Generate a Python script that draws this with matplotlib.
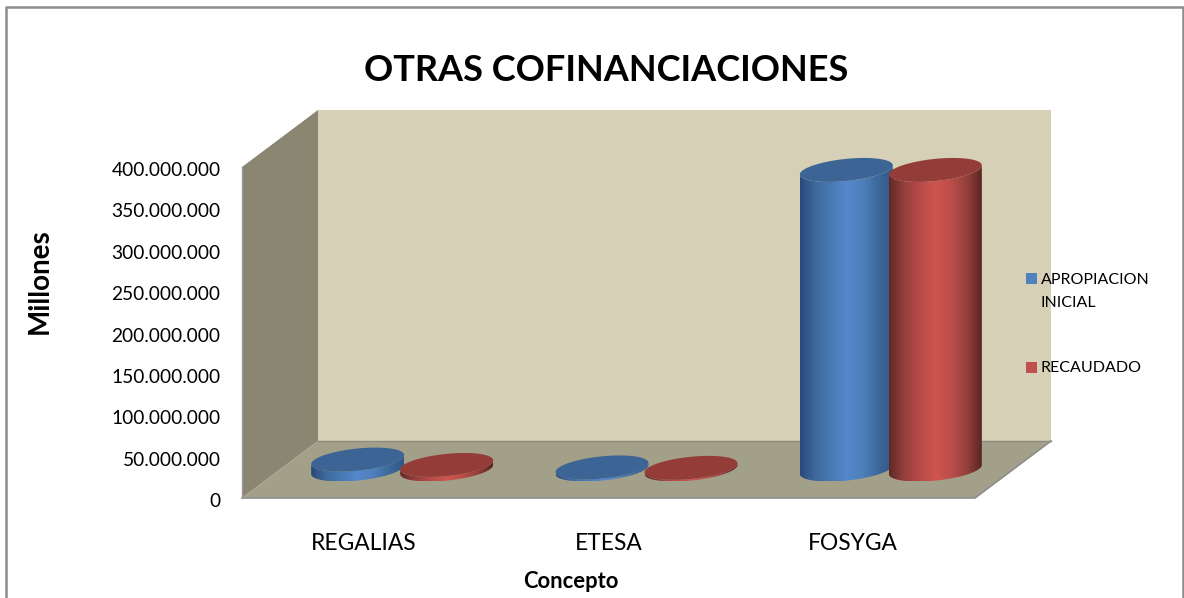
import numpy as np
from matplotlib import pyplot as plt
from matplotlib.colors import LinearSegmentedColormap
from matplotlib.lines import Line2D
from matplotlib.patches import PathPatch, Polygon, Rectangle
from matplotlib.path import Path
from matplotlib.ticker import FuncFormatter
from matplotlib.transforms import ScaledTranslation

categories = ['REGALIAS', 'ETESA', 'FOSYGA']
apropiacion = [12000000, 2500000, 362000000]
recaudado = [5500000, 2000000, 362000000]
yticks = [0, 50000000, 100000000, 150000000, 200000000, 250000000, 300000000, 350000000, 400000000]

W, H = 1184, 598
plt.rcParams['font.family'] = ['Lato', 'DejaVu Sans']

fig = plt.figure(figsize=(W / 100, H / 100), dpi=100)
ax = fig.add_axes([242 / W, 1 - 498 / H, 733 / W, 331 / H])
ax.set_xlim(-0.5, 2.5)
ax.set_ylim(0, 400000000)

# depth of the fake 3d box, in data units
depth_x = 76 / 733 * 3
depth_y = 57 / 331 * 400000000

# walls and floor
x0, x1 = -0.5, 2.5
y1 = 400000000
ax.add_patch(Polygon([(x0 + depth_x, depth_y), (x1 + depth_x, depth_y), (x1 + depth_x, y1 + depth_y), (x0 + depth_x, y1 + depth_y)],
                     fc='#D6D0B7', ec='none', clip_on=False, zorder=1))
ax.add_patch(Polygon([(x0, 0), (x0 + depth_x, depth_y), (x0 + depth_x, y1 + depth_y), (x0, y1)],
                     fc='#8A8672', ec='none', clip_on=False, zorder=2))
ax.add_patch(Polygon([(x0, 0), (x1, 0), (x1 + depth_x, depth_y), (x0 + depth_x, depth_y)],
                     fc='#A3A08A', ec='none', clip_on=False, zorder=2))
ax.plot([x0, x1, x1 + depth_x], [0, 0, depth_y], color='#8E8E8E', lw=1.2, clip_on=False, zorder=3)
ax.plot([x0 + depth_x, x1 + depth_x], [depth_y, depth_y], color='#8E8C7C', lw=1, clip_on=False, zorder=3)
ax.plot([x0, x0], [0, y1], color='#9A9A9A', lw=1, clip_on=False, zorder=3)

blue_cm = LinearSegmentedColormap.from_list('b', ['#28497A', '#3F6A9C', '#4A7AB5', '#5488CC', '#4F80BC', '#3F6A9C', '#2F5687'])
red_cm = LinearSegmentedColormap.from_list('r', ['#612826', '#96403D', '#B84C48', '#CE5550', '#BC4E4A', '#96403D', '#5C2625'])


def cylinder(xc, value, cmap, top_color, z):
    a = 46.5 / 733 * 3
    k = 5500000
    b = 13400000
    base = depth_y / 2
    # front half of the bottom ellipse, left to right
    t = np.linspace(np.pi, 2 * np.pi, 60)
    bx = xc + a * np.cos(t)
    by = base + k * np.cos(t) + b * np.sin(t)
    px = np.r_[bx, bx[::-1], bx[0]]
    py = np.r_[by, by[::-1] + value, by[0]]
    body = PathPatch(Path(np.c_[px, py]), fc='none', ec='none', zorder=z)
    ax.add_patch(body)
    im = ax.imshow(np.linspace(0, 1, 200).reshape(1, -1), cmap=cmap, aspect='auto', zorder=z,
                   extent=[xc - a, xc + a, py.min(), py.max()])
    # last bar pokes out of the axes box because of the depth offset
    im.set_clip_box(fig.bbox)
    im.set_clip_path(body)
    t2 = np.linspace(0, 2 * np.pi, 120)
    ex = xc + a * np.cos(t2)
    ey = base + value + k * np.cos(t2) + b * np.sin(t2)
    ax.fill(ex, ey, color=top_color, ec='none', zorder=z + 0.5, clip_on=False)


offset = 44.5 / 733 * 3
for i in range(len(categories)):
    cylinder(i + depth_x / 2 - offset, apropiacion[i], blue_cm, '#3C6494', 4)
    cylinder(i + depth_x / 2 + offset, recaudado[i], red_cm, '#933C38', 5)

ax.set_xlim(-0.5, 2.5)
ax.set_ylim(0, 400000000)

for s in ax.spines.values():
    s.set_visible(False)
ax.patch.set_visible(False)
ax.set_xticks(range(len(categories)))
ax.set_xticklabels(categories, fontsize=16.4)
ax.set_yticks(yticks)
ax.yaxis.set_major_formatter(FuncFormatter(lambda v, p: f'{int(v):,}'.replace(',', '.')))
ax.tick_params(axis='y', length=0, pad=15.5, labelsize=13.8, labelcolor='black')
ax.tick_params(axis='x', length=0, pad=25.5)
# tick labels sit a bit under their gridline position in the original
shift = ScaledTranslation(0, -1.5 / 72, fig.dpi_scale_trans)
for lab in ax.get_yticklabels():
    lab.set_transform(lab.get_transform() + shift)

ax.set_title('OTRAS COFINANCIACIONES', fontsize=26, fontweight='bold', x=0.4965, y=1.266, va='center')
ax.set_ylabel('Millones', fontsize=20, fontweight='bold')
ax.yaxis.set_label_coords(-189 / 733, 217 / 331)
ax.set_xlabel('Concepto', fontsize=15.8, fontweight='bold')
ax.xaxis.set_label_coords(329 / 733, -73 / 331)


def px_x(x):
    return x / W


def px_y(y):
    return 1 - y / H


# legend
fig.patches.append(Rectangle((px_x(1026), px_y(284)), 11 / W, 11 / H, fc='#4F81BD', ec='none', transform=fig.transFigure))
fig.patches.append(Rectangle((px_x(1026), px_y(373)), 11 / W, 11 / H, fc='#C0504D', ec='none', transform=fig.transFigure))
fig.text(px_x(1041), px_y(279.5), 'APROPIACION', fontsize=11.5, va='center')
fig.text(px_x(1041), px_y(302.5), 'INICIAL', fontsize=11.5, va='center')
fig.text(px_x(1041), px_y(368.5), 'RECAUDADO', fontsize=11.5, va='center')

# chart frame, bottom edge is cut off
frame = Line2D([px_x(6), px_x(6), px_x(1183), px_x(1183)], [0, px_y(6.5), px_y(6.5), 0], color='#8C8C8C', lw=1.8,
               transform=fig.transFigure)
fig.add_artist(frame)

fig.savefig('out.png', dpi=100)
